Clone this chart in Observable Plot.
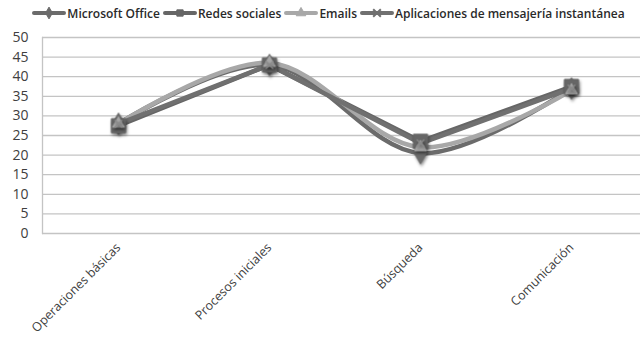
<!DOCTYPE html>
<html><head><meta charset="utf-8">
<script src="https://cdn.jsdelivr.net/npm/d3@7"></script>
<script src="https://cdn.jsdelivr.net/npm/@observablehq/plot@0.6"></script>
<style>
html,body{margin:0;padding:0;background:#fff;}
#legend{height:26px;display:flex;justify-content:center;align-items:center;padding-left:20px;font-family:"Open Sans",sans-serif;font-size:12px;font-weight:600;color:#2a2a2a;}
#legend .item{display:flex;align-items:center;margin-right:3px;}
#legend svg{margin-right:1px;}
.mk{filter:drop-shadow(1px 2px 1.5px rgba(0,0,0,0.45));}
</style></head><body>
<div id="legend"></div><div id="chart"></div>
<script>
const categories = ["Operaciones básicas", "Procesos iniciales", "Búsqueda", "Comunicación"];
const seriesNames = ["Microsoft Office", "Redes sociales", "Emails", "Aplicaciones de mensajería instantánea"];
const microsoftOffice = [28, 43, 20.5, 37];
const redesSociales = [27.5, 43, 23.5, 37.5];
const emails = [28, 43.5, 22, 36.5];
const aplicaciones = [28, 43, 23, 37];
const yTicks = [0, 5, 10, 15, 20, 25, 30, 35, 40, 45, 50];

const seriesValues = [microsoftOffice, redesSociales, emails, aplicaciones];
const seriesColors = ["#6b6b6b", "#666666", "#a8a8a8", "#707070"];
const seriesSymbols = ["diamond", "square", "triangle", "times"];
const seriesCurves = ["catmull-rom", "linear", "catmull-rom", "linear"];

const rows = [];
seriesNames.forEach((s, i) => categories.forEach((c, j) => rows.push({series: s, category: c, value: seriesValues[i][j]})));

// legend
const legend = d3.select("#legend");
seriesNames.forEach((s, i) => {
  const it = legend.append("div").attr("class", "item");
  const sv = it.append("svg").attr("width", 34).attr("height", 12);
  sv.append("line").attr("x1", 2).attr("x2", 32).attr("y1", 6).attr("y2", 6)
    .attr("stroke", seriesColors[i]).attr("stroke-width", 4).attr("stroke-linecap", "round");
  const sym = d3.symbol().type(
    seriesSymbols[i] === "diamond" ? d3.symbolDiamond :
    seriesSymbols[i] === "square" ? d3.symbolSquare :
    seriesSymbols[i] === "triangle" ? d3.symbolTriangle : d3.symbolTimes
  ).size(40);
  sv.append("path").attr("d", sym()).attr("transform", "translate(17,6)")
    .attr("fill", seriesSymbols[i] === "times" ? "none" : seriesColors[i])
    .attr("stroke", seriesColors[i]).attr("stroke-width", seriesSymbols[i] === "times" ? 2 : 1);
  it.append("span").text(s);
});

const marks = [
  Plot.gridY(yTicks, {stroke: "#c4c4c4", strokeOpacity: 1, strokeWidth: 1.3}),
  Plot.frame({anchor: "left", stroke: "#c4c4c4", strokeWidth: 1.3}),
  Plot.axisY(yTicks, {tickSize: 0, tickPadding: 14, fontSize: 14, fill: "#404040", label: null}),
  Plot.axisX({tickSize: 0, tickPadding: 12, tickRotate: -45, fontSize: 12.5, fill: "#404040", label: null})
];
seriesNames.forEach((s, i) => {
  marks.push(Plot.line(rows.filter(d => d.series === s), {
    x: "category", y: "value", stroke: seriesColors[i], strokeWidth: 4.5, curve: seriesCurves[i]
  }));
});
seriesNames.forEach((s, i) => {
  const sym = seriesSymbols[i];
  marks.push(Plot.dot(rows.filter(d => d.series === s), {
    x: "category", y: "value", symbol: () => sym,
    r: sym === "square" ? 8 : sym === "times" ? 3.5 : sym === "triangle" ? 4.5 : 6.5,
    fill: sym === "times" ? "none" : seriesColors[i],
    stroke: sym === "times" ? "#8a8a8a" : seriesColors[i],
    strokeWidth: sym === "times" ? 1.5 : 1,
    className: "mk"
  }));
});

const chart = Plot.plot({
  width: 640, height: 311,
  marginTop: 11, marginBottom: 104, marginLeft: 42, marginRight: -6,
  style: {fontFamily: "'Open Sans', sans-serif", background: "#fff"},
  x: {type: "point", domain: categories, padding: 0.5},
  y: {domain: [0, 50]},
  symbol: {type: "identity"},
  marks
});
document.getElementById("chart").appendChild(chart);
</script>
</body></html>
